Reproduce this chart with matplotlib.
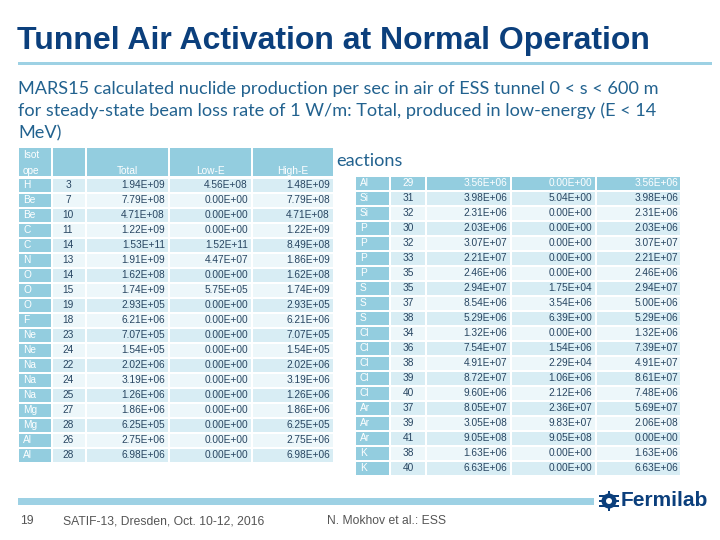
import matplotlib
matplotlib.use('Agg')
import matplotlib.pyplot as plt
from matplotlib.patches import Rectangle, Circle

# table data (left half / right half of the slide)
left_elem = ["H", "Be", "Be", "C", "C", "N", "O", "O", "O", "F", "Ne", "Ne",
             "Na", "Na", "Na", "Mg", "Mg", "Al", "Al"]
left_mass = [3, 7, 10, 11, 14, 13, 14, 15, 19, 18, 23, 24, 22, 24, 25, 27, 28, 26, 28]
left_total = [1.94e9, 7.79e8, 4.71e8, 1.22e9, 1.53e11, 1.91e9, 1.62e8, 1.74e9, 2.93e5,
              6.21e6, 7.07e5, 1.54e5, 2.02e6, 3.19e6, 1.26e6, 1.86e6, 6.25e5, 2.75e6, 6.98e6]
left_low = [4.56e8, 0, 0, 0, 1.52e11, 4.47e7, 0, 5.75e5, 0,
            0, 0, 0, 0, 0, 0, 0, 0, 0, 0]
left_high = [1.48e9, 7.79e8, 4.71e8, 1.22e9, 8.49e8, 1.86e9, 1.62e8, 1.74e9, 2.93e5,
             6.21e6, 7.07e5, 1.54e5, 2.02e6, 3.19e6, 1.26e6, 1.86e6, 6.25e5, 2.75e6, 6.98e6]

right_elem = ["Al", "Si", "Si", "P", "P", "P", "P", "S", "S", "S", "Cl", "Cl", "Cl",
              "Cl", "Cl", "Ar", "Ar", "Ar", "K", "K"]
right_mass = [29, 31, 32, 30, 32, 33, 35, 35, 37, 38, 34, 36, 38, 39, 40, 37, 39, 41, 38, 40]
right_total = [3.56e6, 3.98e6, 2.31e6, 2.03e6, 3.07e7, 2.21e7, 2.46e6, 2.94e7, 8.54e6, 5.29e6,
               1.32e6, 7.54e7, 4.91e7, 8.72e7, 9.60e6, 8.05e7, 3.05e8, 9.05e8, 1.63e6, 6.63e6]
right_low = [0, 5.04e0, 0, 0, 0, 0, 0, 1.75e4, 3.54e6, 6.39e0,
             0, 1.54e6, 2.29e4, 1.06e6, 2.12e6, 2.36e7, 9.83e7, 9.05e8, 0, 0]
right_high = [3.56e6, 3.98e6, 2.31e6, 2.03e6, 3.07e7, 2.21e7, 2.46e6, 2.94e7, 5.00e6, 5.29e6,
              1.32e6, 7.39e7, 4.91e7, 8.61e7, 7.48e6, 5.69e7, 2.06e8, 0, 1.63e6, 6.63e6]

col_heads = ["Total", "Low-E", "High-E"]

TITLE_BLUE = '#0b3f7c'
TEXT_BLUE = '#22628f'
RULE_BLUE = '#9dd1e4'
HEAD_BLUE = '#93cddf'
ROW_DARK = '#d8edf4'
ROW_LIGHT = '#edf7fa'
NUM_COL = '#284662'

fig = plt.figure(figsize=(7.2, 5.4), dpi=100)
ax = fig.add_axes([0, 0, 1, 1])
ax.set_xlim(0, 720)
ax.set_ylim(540, 0)
ax.axis('off')

# title + rule
ax.text(17, 41, "Tunnel Air Activation at Normal Operation", fontsize=23,
        fontweight='bold', color=TITLE_BLUE, family='Liberation Sans', va='center')
ax.add_patch(Rectangle((18, 62), 694, 3, color=RULE_BLUE, lw=0))

sub_lines = ["MARS15 calculated nuclide production per sec in air of ESS tunnel 0 < s < 600 m",
             "for steady-state beam loss rate of 1 W/m: Total, produced in low-energy (E < 14",
             "MeV)"]
for k, line in enumerate(sub_lines):
    ax.text(18, 94 + 22 * k, line, fontsize=13.1, color=TEXT_BLUE, family='Lato',
            va='baseline')
ax.text(336, 166, "eactions", fontsize=13.1, color=TEXT_BLUE, family='Lato', va='baseline')

fnt = dict(family='Liberation Sans', fontsize=7.3)


def fmt(v):
    return "%.2E" % v


def draw_table(cols, y0, elem, mass, total, low, high, first_head, num_right, mass_x):
    for i in range(len(elem)):
        yc = y0 + 15 * i
        head = first_head and i == 0
        for j, (a, b) in enumerate(cols):
            if j == 0 or head:
                fc = HEAD_BLUE
            else:
                fc = ROW_DARK if (i % 2 == (1 if first_head else 0)) else ROW_LIGHT
            ax.add_patch(Rectangle((a, yc - 6.5), b - a, 13, color=fc, lw=0, zorder=2))
        tc = 'white' if head else NUM_COL
        ax.text(cols[0][0] + 4, yc, elem[i], color='white', va='center', ha='left',
                zorder=3, **fnt)
        ax.text(mass_x, yc, str(mass[i]), color=tc, va='center', ha='center', zorder=3, **fnt)
        for xr, v in zip(num_right, (total[i], low[i], high[i])):
            ax.text(xr, yc, fmt(v), color=tc, va='center', ha='right', zorder=3, **fnt)


left_cols = [(19, 51), (53, 85), (87, 168), (170, 251), (253, 333)]
right_cols = [(356, 389), (391, 425), (427, 510), (512, 595), (597, 680)]

# left header
for a, b in left_cols:
    ax.add_patch(Rectangle((a, 148), b - a, 28, color=HEAD_BLUE, lw=0, zorder=2))
ax.text(23, 155, "Isot", color='white', va='center', zorder=3, **fnt)
ax.text(23, 171, "ope", color='white', va='center', zorder=3, **fnt)
for xc, h in zip([127, 210, 293], col_heads):
    ax.text(xc, 171, h, color='white', va='center', ha='center', zorder=3, **fnt)

draw_table(left_cols, 185, left_elem, left_mass, left_total, left_low, left_high,
           False, [165, 248, 330], 68)
draw_table(right_cols, 183, right_elem, right_mass, right_total, right_low, right_high,
           True, [507, 592, 678], 408)

# footer
ax.add_patch(Rectangle((18, 498), 576, 7, color=RULE_BLUE, lw=0))
foot = dict(family='Liberation Sans', fontsize=8.7, color='#555555', va='center')
ax.text(20, 521, "19", **foot)
ax.text(63, 521, "SATIF-13, Dresden, Oct. 10-12, 2016", **foot)
ax.text(327, 521, "N. Mokhov et al.: ESS", **foot)

# Fermilab logo (rough gear glyph + wordmark)
ax.add_patch(Circle((609, 501), 7.5, color=TITLE_BLUE, lw=0))
for dy in (-5, 0, 5):
    ax.add_patch(Rectangle((599, 501 + dy - 1.2), 20, 2.4, color=TITLE_BLUE, lw=0))
ax.add_patch(Rectangle((607.8, 491), 2.4, 20, color=TITLE_BLUE, lw=0))
ax.add_patch(Circle((609, 501), 3.0, color='white', lw=0))
ax.text(621, 501, "Fermilab", fontsize=15, fontweight='bold', color=TITLE_BLUE,
        family='Liberation Sans', va='center')

fig.savefig('out.png', dpi=100)
